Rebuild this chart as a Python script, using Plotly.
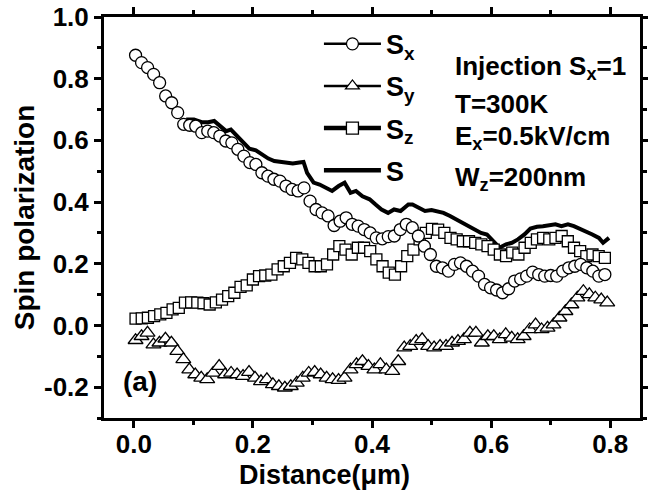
import numpy as np
import plotly.graph_objects as go

# ---- data ----
sx_vals = [0.876, 0.852, 0.836, 0.814, 0.787, 0.744, 0.722, 0.690, 0.652, 0.649,
           0.646, 0.625, 0.630, 0.625, 0.614, 0.598, 0.592, 0.571, 0.549, 0.528,
           0.522, 0.495, 0.484, 0.474, 0.468, 0.452, 0.441, 0.436, 0.446, 0.403,
           0.376, 0.365, 0.355, 0.324, 0.338, 0.349, 0.328, 0.322, 0.311, 0.300,
           0.284, 0.281, 0.288, 0.290, 0.311, 0.328, 0.317, 0.290, 0.257, 0.230,
           0.192, 0.187, 0.176, 0.198, 0.203, 0.192, 0.176, 0.160, 0.133, 0.122,
           0.115, 0.106, 0.119, 0.144, 0.151, 0.160, 0.173, 0.165, 0.160, 0.162,
           0.160, 0.176, 0.187, 0.192, 0.198, 0.187, 0.176, 0.160, 0.165]

sy_vals = [-0.048, -0.035, -0.024, -0.062, -0.056, -0.043, -0.056, -0.083, -0.110, -0.143,
           -0.159, -0.170, -0.175, -0.154, -0.132, -0.159, -0.154, -0.159, -0.164, -0.151,
           -0.170, -0.181, -0.175, -0.191, -0.197, -0.202, -0.197, -0.186, -0.170, -0.154,
           -0.151, -0.159, -0.170, -0.175, -0.177, -0.170, -0.143, -0.126, -0.116, -0.132,
           -0.143, -0.126, -0.143, -0.148, -0.116, -0.072, -0.067, -0.051, -0.045, -0.067,
           -0.072, -0.067, -0.067, -0.056, -0.051, -0.045, -0.024, -0.024, -0.056, -0.035,
           -0.035, -0.045, -0.029, -0.040, -0.045, -0.035, -0.013, 0.003, -0.013, -0.008,
           0.003, 0.025, 0.046, 0.068, 0.090, 0.111, 0.101, 0.090, 0.084, 0.074]

sz_vals = [0.022, 0.023, 0.025, 0.030, 0.036, 0.041, 0.052, 0.057, 0.074, 0.075,
           0.074, 0.072, 0.068, 0.075, 0.084, 0.095, 0.106, 0.125, 0.130, 0.149,
           0.160, 0.162, 0.165, 0.182, 0.192, 0.203, 0.219, 0.214, 0.203, 0.192,
           0.192, 0.198, 0.230, 0.257, 0.246, 0.230, 0.252, 0.252, 0.241, 0.214,
           0.192, 0.171, 0.165, 0.192, 0.225, 0.246, 0.279, 0.300, 0.313, 0.311,
           0.300, 0.284, 0.279, 0.273, 0.273, 0.268, 0.263, 0.257, 0.246, 0.230,
           0.225, 0.236, 0.230, 0.252, 0.268, 0.279, 0.284, 0.279, 0.284, 0.290,
           0.273, 0.252, 0.241, 0.225, 0.230, 0.225, 0.219]

s_dist = [0.088, 0.101, 0.114, 0.125, 0.135, 0.146, 0.155, 0.163, 0.173, 0.184,
          0.194, 0.205, 0.215, 0.226, 0.236, 0.246, 0.257, 0.267, 0.278, 0.285,
          0.291, 0.302, 0.312, 0.323, 0.333, 0.344, 0.354, 0.364, 0.373, 0.384,
          0.396, 0.406, 0.416, 0.427, 0.437, 0.448, 0.461, 0.468, 0.479, 0.489,
          0.500, 0.510, 0.520, 0.531, 0.541, 0.552, 0.562, 0.573, 0.583, 0.593,
          0.604, 0.614, 0.625, 0.635, 0.645, 0.656, 0.666, 0.677, 0.687, 0.697,
          0.708, 0.718, 0.729, 0.739, 0.749, 0.760, 0.770, 0.781, 0.788, 0.798]
s_vals = [0.668, 0.668, 0.659, 0.659, 0.663, 0.646, 0.630, 0.635, 0.614, 0.592,
          0.573, 0.568, 0.555, 0.541, 0.533, 0.530, 0.528, 0.525, 0.528, 0.530,
          0.495, 0.463, 0.457, 0.446, 0.436, 0.452, 0.463, 0.430, 0.436, 0.419,
          0.409, 0.392, 0.376, 0.365, 0.376, 0.371, 0.392, 0.392, 0.382, 0.371,
          0.374, 0.371, 0.365, 0.355, 0.344, 0.333, 0.322, 0.311, 0.300, 0.295,
          0.273, 0.252, 0.263, 0.268, 0.279, 0.295, 0.314, 0.320, 0.322, 0.324,
          0.328, 0.322, 0.328, 0.322, 0.314, 0.306, 0.295, 0.284, 0.268, 0.284]

x_start = 0.003
sx_dist = np.linspace(x_start, 0.791, len(sx_vals))
sy_dist = np.linspace(x_start, 0.795, len(sy_vals))
sz_dist = np.linspace(x_start, 0.791, len(sz_vals))

x_ticks = [0.0, 0.2, 0.4, 0.6, 0.8]
y_ticks = [-0.2, 0.0, 0.2, 0.4, 0.6, 0.8, 1.0]

FONT = "Liberation Sans"
mk_line = dict(color="black", width=1.3)

fig = go.Figure()

# data traces
fig.add_trace(go.Scatter(x=s_dist, y=s_vals, mode="lines",
                         line=dict(color="black", width=4), showlegend=False))
fig.add_trace(go.Scatter(x=sz_dist, y=sz_vals, mode="markers",
                         marker=dict(symbol="square", size=11, color="white", line=mk_line),
                         showlegend=False))
fig.add_trace(go.Scatter(x=sy_dist, y=sy_vals, mode="markers",
                         marker=dict(symbol="triangle-up", size=13, color="white", line=mk_line),
                         showlegend=False))
fig.add_trace(go.Scatter(x=sx_dist, y=sx_vals, mode="markers",
                         marker=dict(symbol="circle", size=12, color="white", line=mk_line),
                         showlegend=False))

# legend entries
legend_items = [
    ("S<sub>x</sub>", "circle", 2.5, "lines+markers"),
    ("S<sub>y</sub>", "triangle-up", 2.5, "lines+markers"),
    ("S<sub>z</sub>", "square", 4.5, "lines+markers"),
    ("S", "circle", 4.5, "lines"),
]
for i, (name, sym, lw, mode) in enumerate(legend_items):
    fig.add_trace(go.Scatter(x=[None], y=[None], mode=mode, name=name,
                             legendgroup=f"g{i}",
                             line=dict(color="black", width=lw),
                             marker=dict(symbol=sym, size=12, color="white", line=mk_line)))

axis_common = dict(
    showline=True, linewidth=3, linecolor="black", mirror="allticks",
    ticks="outside", ticklen=7, tickwidth=3, tickcolor="black",
    showgrid=False, zeroline=False, automargin=False,
    tickfont=dict(family=FONT, size=26, color="black", weight="bold"),
)

fig.update_xaxes(range=[-0.05, 0.85], tickvals=x_ticks,
                 ticktext=[f"{v:.1f}" for v in x_ticks],
                 ticklabelstandoff=-6,
                 minor=dict(ticks="outside", ticklen=4, tickwidth=3, tickcolor="black", dtick=0.1),
                 **axis_common)
fig.update_yaxes(range=[-0.3, 1.0], tickvals=y_ticks,
                 ticktext=[f"{v:.1f}" for v in y_ticks],
                 minor=dict(ticks="outside", ticklen=4, tickwidth=3, tickcolor="black", dtick=0.1),
                 title=dict(text="Spin polarization", standoff=2,
                            font=dict(family=FONT, size=28, color="black", weight="bold")),
                 **axis_common)

ann_font = dict(family=FONT, size=26, color="black", weight="bold")
texts = [("Injection S<sub>x</sub>=1", 0.875), ("T=300K", 0.783),
         ("E<sub>x</sub>=0.5kV/cm", 0.700), ("W<sub>z</sub>=200nm", 0.598)]
annotations = [dict(text=t, x=0.651, y=yy, xref="paper", yref="paper",
                    xanchor="left", yanchor="middle", showarrow=False, font=ann_font)
               for t, yy in texts]
annotations.append(dict(text="(a)", x=0.032, y=0.09, xref="paper", yref="paper",
                        xanchor="left", yanchor="middle", showarrow=False,
                        font=dict(family=FONT, size=28, color="black", weight="bold")))
# x-axis title
annotations.append(dict(text="Distance(μm)", x=0.412, y=-0.184, xref="paper", yref="paper",
                        xanchor="center", yanchor="bottom", showarrow=False,
                        font=dict(family=FONT, size=27, color="black", weight="bold")))

fig.update_layout(
    width=648, height=492,
    margin=dict(l=104, r=8, t=17, b=74),
    paper_bgcolor="white", plot_bgcolor="white",
    legend=dict(x=0.401, y=0.993, xanchor="left", yanchor="top",
                bgcolor="rgba(0,0,0,0)", traceorder="grouped", tracegroupgap=4,
                itemwidth=57,
                font=dict(family=FONT, size=27, color="black", weight="bold")),
    annotations=annotations,
)

fig.write_html("out.html", config={"displayModeBar": False},
               post_script="document.body.style.margin='0px';")
